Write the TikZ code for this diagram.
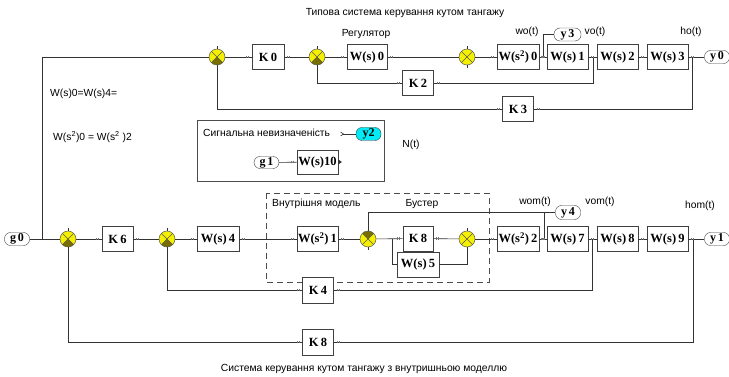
\documentclass[tikz,border=0pt]{standalone}
\usepackage{fontspec}
\setmainfont{Liberation Sans}
\newfontfamily\boxfont{Liberation Serif}
\definecolor{sumyellow}{RGB}{245,240,0}
\definecolor{sumdark}{RGB}{120,110,0}
\definecolor{termcyan}{RGB}{0,235,245}
\newcommand\sumnode[4]{%
  \node[sumj] (#1) at (#2,#3) {};
  \begin{scope}
    \clip (#1.center) circle (8);
    \ifnum#4=1 \fill[sumdark] (#1.center) -- ++(-12,12) -- ++(24,0) -- cycle;\fi
    \ifnum#4=2 \fill[sumdark] (#1.center) -- ++(-12,-12) -- ++(24,0) -- cycle;\fi
  \end{scope}
  \draw[sumline] (#1.center) ++(-5.66,-5.66) -- ++(11.31,11.31);
  \draw[sumline] (#1.center) ++(-5.66,5.66) -- ++(11.31,-11.31);
  \draw[sumline] (#1.center) circle (8);
  \draw[wire] (#1.north) -- ++(0,-3);
  \draw[wire] (#1.south) -- ++(0,3);
}
\newcommand\porttick[1]{%
  \draw[tick] (#1.west) ++(-3,-1.2) -- ++(0,2.4);
  \draw[tick] (#1.west) ++(-5,-1.2) -- ++(0,2.4);
  \draw[tick] (#1.east) ++(3,-1.2) -- ++(0,2.4);
  \draw[tick] (#1.east) ++(5,-1.2) -- ++(0,2.4);
}
\begin{document}
\begin{tikzpicture}[x=1pt,y=-1pt,
  blk/.style={draw=black!75, fill=white, line width=0.7pt, minimum height=25pt, inner sep=0pt,
    font=\boxfont\bfseries\fontsize{12.5}{12.5}\selectfont},
  term/.style={draw=black!75, fill=white, rounded corners=6pt, minimum height=13pt,
    minimum width=25pt, inner sep=0pt, font=\boxfont\bfseries\fontsize{12}{12}\selectfont},
  sumj/.style={circle, fill=sumyellow, minimum size=16pt, inner sep=0pt},
  sumline/.style={draw=black!65, line width=0.5pt},
  lbl/.style={font=\fontsize{10.3}{11}\selectfont, inner sep=0pt},
  wire/.style={draw=black!80, line width=0.6pt},
  tick/.style={draw=black!55, line width=0.35pt}]
\useasboundingbox (0,0) rectangle (729,377);
\fill[white] (0,0) rectangle (729,377);

% frames
\draw[draw=black!70, line width=0.6pt, dash pattern=on 6pt off 4pt] (266,193) rectangle (489,282);
\node[draw=black!70, line width=0.7pt, minimum width=187pt, minimum height=61pt, anchor=north west, inner sep=0pt] (sig) at (197,120) {};

% ---------- top system ----------
\sumnode{s1}{217}{57}{1}
\sumnode{s2}{317}{57}{1}
\sumnode{s3}{467}{57}{0}
\node[blk, minimum width=32pt] (K0) at (268,57) {K\,0};
\node[blk, minimum width=40pt] (W0) at (367,57) {W(s)\,0};
\node[blk, minimum width=42pt] (W20) at (518,57) {W(s\textsuperscript{2})\,0};
\node[blk, minimum width=41pt] (W1) at (567.5,57) {W(s)\,1};
\node[blk, minimum width=41pt] (W2) at (617.5,57) {W(s)\,2};
\node[blk, minimum width=41pt] (W3) at (667.5,57) {W(s)\,3};
\node[term] (y0) at (717,57) {y\,0};
\node[term, minimum width=27pt] (y3) at (567.5,34.5) {y\,3};
\node[blk, minimum width=31pt] (K2) at (418,83) {K\,2};
\node[blk, minimum width=31pt] (K3) at (518,109) {K\,3};

% ---------- bottom system ----------
\node[term] (g0) at (17,239) {g\,0};
\sumnode{sA}{68}{239}{1}
\node[blk, minimum width=31pt] (K6) at (117.5,239) {K\,6};
\sumnode{sB}{167}{239}{1}
\node[blk, minimum width=42pt] (W4) at (218,239) {W(s)\,4};
\node[blk, minimum width=41pt] (W21) at (317.5,239) {W(s\textsuperscript{2})\,1};
\sumnode{sC}{368}{239}{2}
\node[blk, minimum width=30pt] (K8i) at (418,238.5) {K\,8};
\node[blk, minimum width=42pt] (W5) at (418,264.5) {W(s)\,5};
\sumnode{sD}{467}{239}{0}
\node[blk, minimum width=42pt] (W22) at (518,239) {W(s\textsuperscript{2})\,2};
\node[blk, minimum width=41pt] (W7) at (567.5,239) {W(s)\,7};
\node[blk, minimum width=41pt] (W8) at (617.5,239) {W(s)\,8};
\node[blk, minimum width=41pt] (W9) at (667.5,239) {W(s)\,9};
\node[term] (y1) at (717,239) {y\,1};
\node[term, minimum width=25pt, minimum height=14pt] (y4) at (568,212.5) {y\,4};
\node[blk, minimum width=31pt, minimum height=26pt] (K4) at (318,290) {K\,4};
\node[blk, minimum width=31pt, minimum height=26pt] (K8o) at (318,342) {K\,8};

% ---------- signal uncertainty ----------
\node[term, fill=termcyan, minimum width=25pt] (y2) at (368.5,134) {y2};
\node[term, minimum width=25pt, minimum height=12pt] (g1) at (266.5,162.5) {g\,1};
\node[blk, minimum width=41pt, minimum height=24pt] (W10) at (317.5,162) {W(s)10};
\coordinate (a2) at (343,134);

% ---------- connectors top ----------
\coordinate (jL) at (42,239);
\draw[wire] (jL) |- (s1);
\draw[wire] (s1) -- (K0);
\draw[wire] (K0) -- (s2);
\draw[wire] (s2) -- (W0);
\draw[wire] (W0) -- (s3);
\draw[wire] (s3) -- (W20);
\draw[wire] (W20) -- (W1);
\draw[wire] (W1) -- (W2);
\draw[wire] (W2) -- (W3);
\draw[wire] (W3) -- (y0);
\coordinate (jy3) at (543,57);
\draw[wire] (jy3) |- (y3);
\coordinate (jk2) at (593,57);
\draw[wire] (jk2) |- (K2);
\draw[wire] (K2) -| (s2);
\coordinate (jk3) at (692,57);
\draw[wire] (jk3) |- (K3);
\draw[wire] (K3) -| (s1);

% ---------- connectors bottom ----------
\draw[wire] (g0) -- (sA);
\draw[wire] (sA) -- (K6);
\draw[wire] (K6) -- (sB);
\draw[wire] (sB) -- (W4);
\draw[wire] (W4) -- (W21);
\draw[wire] (W21) -- (sC);
\draw[wire] (sC) -- (K8i);
\draw[wire] (K8i) -- (sD);
\draw[wire] (sD) -- (W22);
\draw[wire] (W22) -- (W7);
\draw[wire] (W7) -- (W8);
\draw[wire] (W8) -- (W9);
\draw[wire] (W9) -- (y1);
\coordinate (j5) at (392,239);
\draw[wire] (j5) |- (W5);
\draw[wire] (W5) -| (sD);
\coordinate (j4) at (544,239);
\coordinate (b4) at (544,212.5);
\draw[wire] (j4) -- (b4) -- (y4);
\draw[wire] (b4) -| (sC);
\coordinate (jk4) at (592,239);
\draw[wire] (jk4) |- (K4);
\draw[wire] (K4) -| (sB);
\coordinate (jk8) at (693,239);
\draw[wire] (jk8) |- (K8o);
\draw[wire] (K8o) -| (sA);

% port ticks
\foreach \n in {K0,W0,W20,W1,W2,W3,K2,K3,K6,W4,W21,K8i,W22,W7,W8,W9,K4,K8o}{\porttick{\n}}

% ---------- signal box connectors ----------
\draw[wire] (a2) -- (y2);
\draw[wire] (a2) ++(-2.5,-2) -- ++(3,2) -- ++(-3,2);
\draw[wire] (g1) -- (W10);
\draw[tick] (W10.west) ++(-3,-1.2) -- ++(0,2.4);
\draw[tick] (W10.west) ++(-5,-1.2) -- ++(0,2.4);
\fill[black!80] (W10.east) ++(0,-2.5) -- ++(3.5,2.5) -- ++(-3.5,2.5) -- cycle;

% ---------- labels ----------
\node[lbl] (t1) at (405,13) {Типова система керування кутом тангажу};
\node[lbl] (reg) at (366,34) {Регулятор};
\node[lbl] (wo) at (527,32) {wo(t)};
\node[lbl] (vo) at (595,32) {vo(t)};
\node[lbl] (ho) at (691,32) {ho(t)};
\node[lbl, anchor=west] (eq1) at (50,94) {W(s)0=W(s)4=};
\node[lbl, anchor=west] (eq2) at (53,137) {W(s\textsuperscript{2})0 = W(s\textsuperscript{2} )2};
\node[lbl, anchor=west] (sigt) at (203,133) {Сигнальна невизначеність};
\node[lbl] (Nt) at (411,145) {N(t)};
\node[lbl, anchor=west] (vm) at (272,204) {Внутрішня модель};
\node[lbl] (bst) at (422,204) {Бустер};
\node[lbl] (wom) at (535,202) {wom(t)};
\node[lbl] (vom) at (600,202) {vom(t)};
\node[lbl] (hom) at (700,206) {hom(t)};
\node[lbl] (t2) at (364,369) {Система керування кутом тангажу з внутришньою моделлю};
\end{tikzpicture}
\end{document}
